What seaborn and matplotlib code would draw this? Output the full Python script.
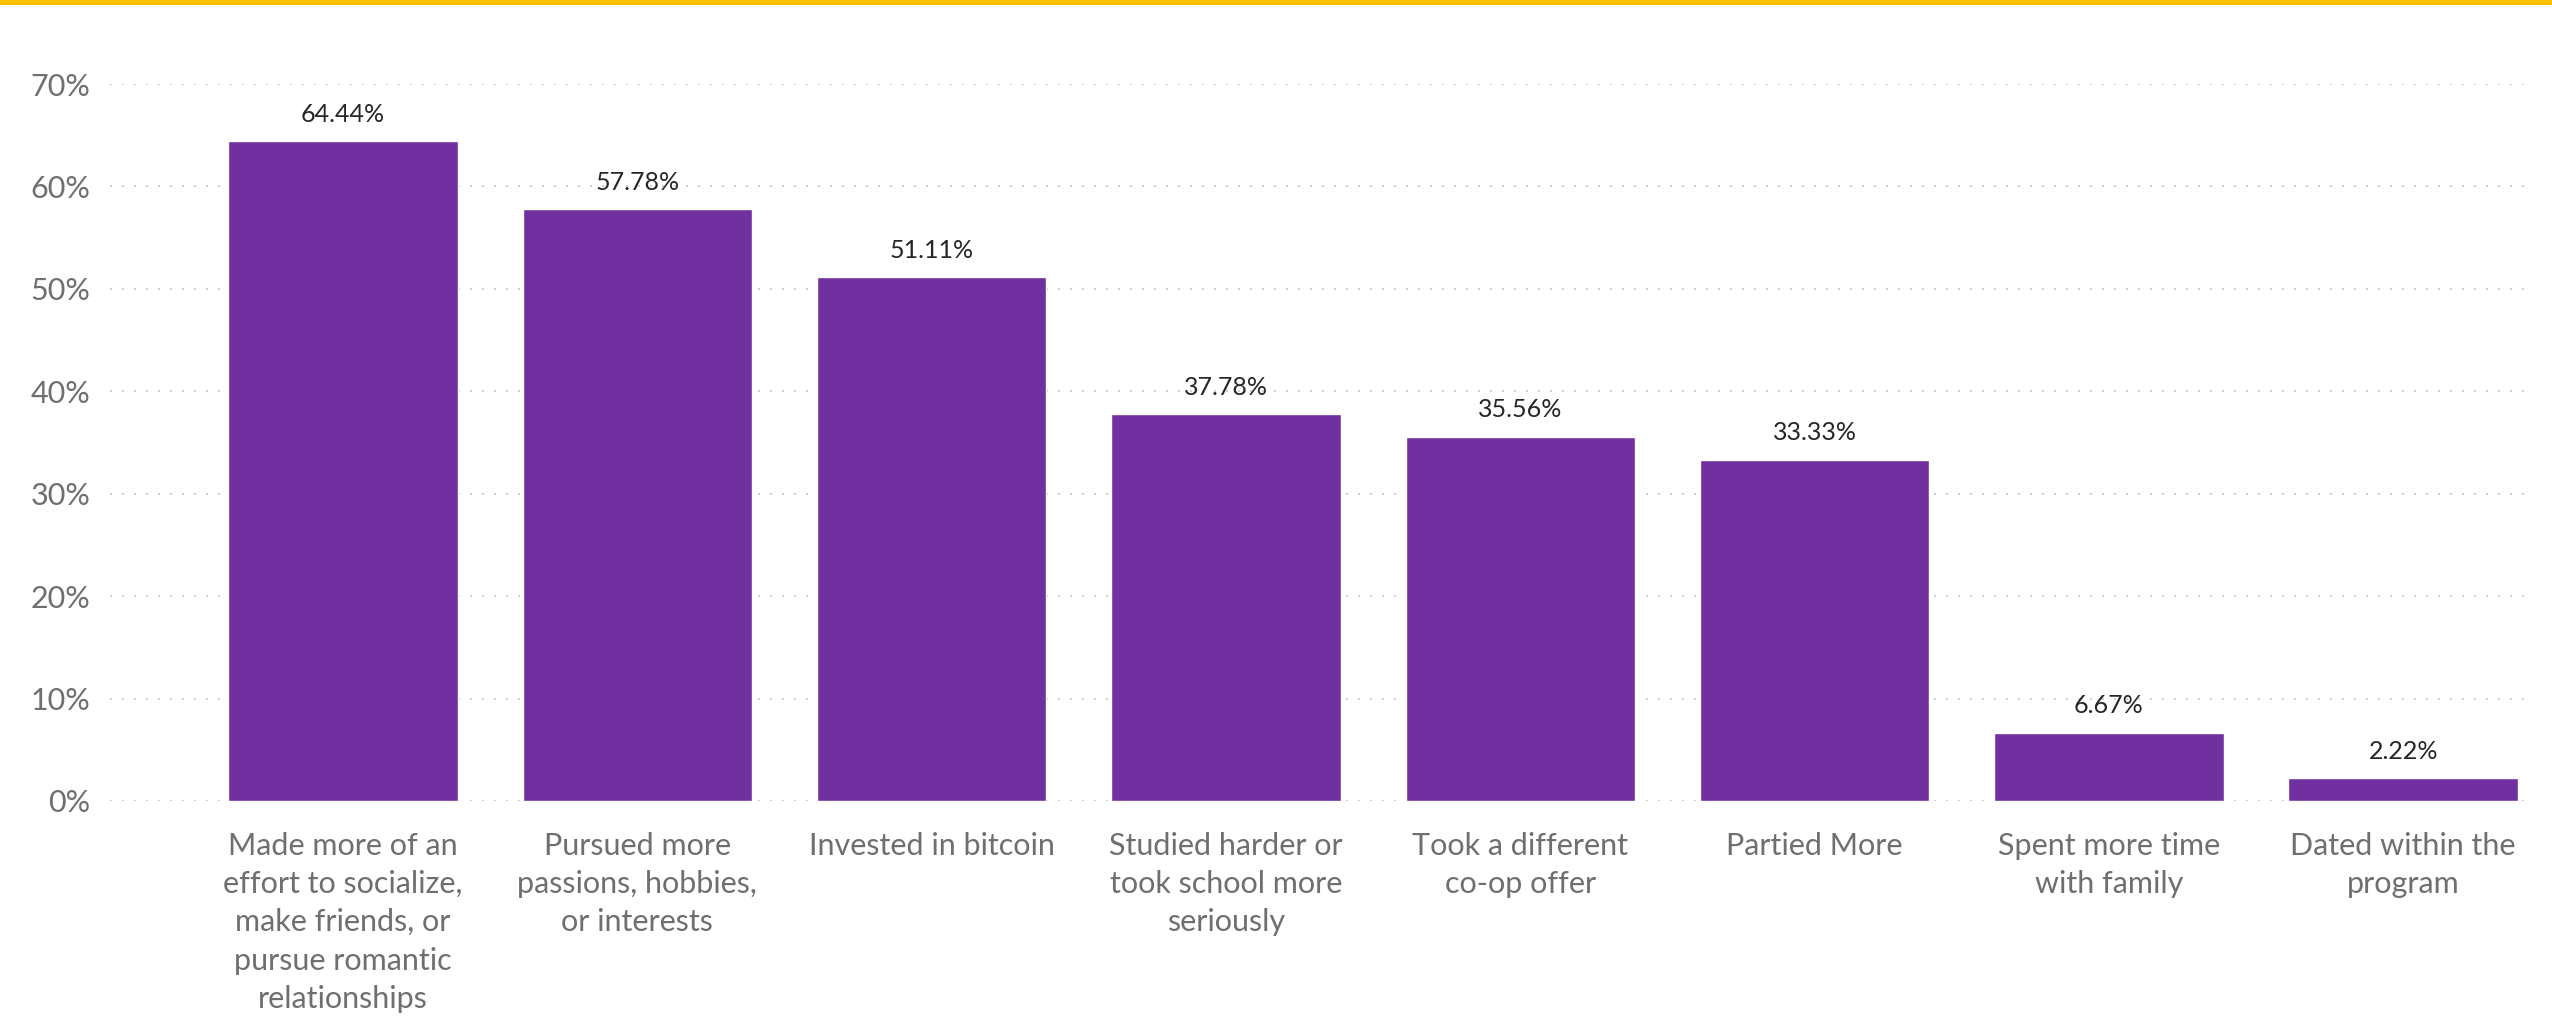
import matplotlib
matplotlib.use("Agg")
import matplotlib.pyplot as plt
import seaborn as sns
import pandas as pd
from matplotlib.patches import Rectangle

# Survey responses: share of respondents per answer
categories = [
    "Made more of an\neffort to socialize,\nmake friends, or\npursue romantic\nrelationships",
    "Pursued more\npassions, hobbies,\nor interests",
    "Invested in bitcoin",
    "Studied harder or\ntook school more\nseriously",
    "Took a different\nco-op offer",
    "Partied More",
    "Spent more time\nwith family",
    "Dated within the\nprogram",
]
values = [64.44, 57.78, 51.11, 37.78, 35.56, 33.33, 6.67, 2.22]
y_ticks = [0, 10, 20, 30, 40, 50, 60, 70]
y_tick_labels = ["0%", "10%", "20%", "30%", "40%", "50%", "60%", "70%"]

PURPLE = "#7030A0"
GOLD = "#FFC000"
GRID = "#cfcfcf"
AXIS_TEXT = "#6f6f6f"
VALUE_TEXT = "#262626"

sns.set_theme(style="white")
plt.rcParams["font.family"] = ["Lato", "DejaVu Sans"]

df = pd.DataFrame({"category": categories, "value": values})

W, H, DPI = 2552, 1016, 100
fig = plt.figure(figsize=(W / DPI, H / DPI), dpi=DPI)
fig.patch.set_facecolor("white")

# Gold rule across the top edge
fig.patches.append(Rectangle((0, 1 - 5 / H), 1, 5 / H, transform=fig.transFigure,
                             facecolor=GOLD, edgecolor="none", zorder=5))

left, right = 110 / W, 2533 / W
bottom, top = 1 - 801 / H, 1 - 84 / H
ax = fig.add_axes([left, bottom, right - left, top - bottom])

sns.barplot(data=df, x="category", y="value", color=PURPLE, saturation=1,
            width=0.78, ax=ax, zorder=3)

ax.set_xlim(-0.792, 7.441)
ax.set_ylim(0, 70)
ax.set_yticks(y_ticks)
ax.set_yticklabels(y_tick_labels)
ax.set_xlabel("")
ax.set_ylabel("")

for y in y_ticks:
    ax.axhline(y, color=GRID, lw=1.44, dashes=(1, 5), zorder=1)

for s in ax.spines.values():
    s.set_visible(False)

ax.tick_params(axis="y", length=0, pad=14, labelsize=22, labelcolor=AXIS_TEXT)
ax.tick_params(axis="x", length=0, pad=22, labelsize=22, labelcolor=AXIS_TEXT)
for lbl in ax.get_xticklabels():
    lbl.set_linespacing(1.45)
    lbl.set_horizontalalignment("center")

ax.bar_label(ax.containers[0], labels=[f"{v:.2f}%" for v in values],
             padding=11, fontsize=18, color=VALUE_TEXT)

fig.savefig("out.png", dpi=DPI, facecolor="white")
